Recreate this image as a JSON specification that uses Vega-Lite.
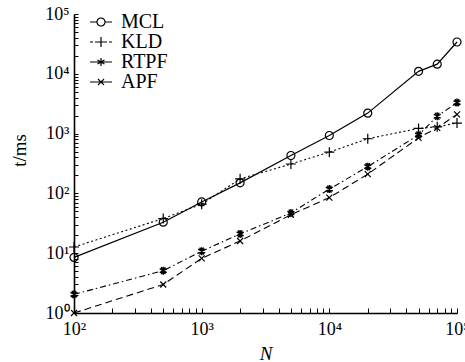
{
  "$schema": "https://vega.github.io/schema/vega-lite/v6.json",
  "width": 383,
  "height": 299,
  "autosize": "none",
  "padding": {"left": 74, "top": 14, "right": 8, "bottom": 49},
  "background": "white",
  "config": {"view": {"stroke": null}, "font": "Liberation Serif"},
  "data": {
    "values": [
      {"N": 100, "t": 8.5, "method": "MCL"},
      {"N": 500, "t": 33, "method": "MCL"},
      {"N": 1000, "t": 72, "method": "MCL"},
      {"N": 2000, "t": 150, "method": "MCL"},
      {"N": 5000, "t": 430, "method": "MCL"},
      {"N": 10000, "t": 930, "method": "MCL"},
      {"N": 20000, "t": 2200, "method": "MCL"},
      {"N": 50000, "t": 11000, "method": "MCL"},
      {"N": 70000, "t": 14500, "method": "MCL"},
      {"N": 100000, "t": 34000, "method": "MCL"},
      {"N": 100, "t": 12.7, "method": "KLD"},
      {"N": 500, "t": 38, "method": "KLD"},
      {"N": 1000, "t": 66, "method": "KLD"},
      {"N": 2000, "t": 175, "method": "KLD"},
      {"N": 5000, "t": 310, "method": "KLD"},
      {"N": 10000, "t": 490, "method": "KLD"},
      {"N": 20000, "t": 820, "method": "KLD"},
      {"N": 50000, "t": 1220, "method": "KLD"},
      {"N": 70000, "t": 1300, "method": "KLD"},
      {"N": 100000, "t": 1500, "method": "KLD"},
      {"N": 100, "t": 2.05, "method": "RTPF"},
      {"N": 500, "t": 5.1, "method": "RTPF"},
      {"N": 1000, "t": 10.8, "method": "RTPF"},
      {"N": 2000, "t": 21, "method": "RTPF"},
      {"N": 5000, "t": 47, "method": "RTPF"},
      {"N": 10000, "t": 118, "method": "RTPF"},
      {"N": 20000, "t": 280, "method": "RTPF"},
      {"N": 50000, "t": 950, "method": "RTPF"},
      {"N": 70000, "t": 1950, "method": "RTPF"},
      {"N": 100000, "t": 3300, "method": "RTPF"},
      {"N": 100, "t": 1.0, "method": "APF"},
      {"N": 500, "t": 3.0, "method": "APF"},
      {"N": 1000, "t": 8.2, "method": "APF"},
      {"N": 2000, "t": 16, "method": "APF"},
      {"N": 5000, "t": 44, "method": "APF"},
      {"N": 10000, "t": 85, "method": "APF"},
      {"N": 20000, "t": 210, "method": "APF"},
      {"N": 50000, "t": 850, "method": "APF"},
      {"N": 70000, "t": 1250, "method": "APF"},
      {"N": 100000, "t": 2100, "method": "APF"}
    ]
  },
  "encoding": {
    "x": {
      "field": "N", "type": "quantitative",
      "scale": {"type": "log", "domain": [100, 100000], "nice": false},
      "axis": {
        "title": "N", "titleFont": "Liberation Serif", "titleFontStyle": "italic", "titleFontWeight": "normal", "titleFontSize": 19, "titleColor": "black", "titlePadding": 6,
        "values": [100,200,300,400,500,600,700,800,900,1000,2000,3000,4000,5000,6000,7000,8000,9000,10000,20000,30000,40000,50000,60000,70000,80000,90000,100000],
        "labelExpr": "datum.value == pow(10, round(log(datum.value)/LN10)) ? '10' + ['⁰','¹','²','³','⁴','⁵'][round(log(datum.value)/LN10)] : ''",
        "labelFont": "Liberation Serif", "labelFontSize": 18, "labelColor": "black", "labelPadding": 12, "labelFlush": false, "labelOverlap": false, "labelBound": false,
        "tickSize": -5, "tickColor": "black", "tickWidth": 1, "domainColor": "black", "domainWidth": 1.6, "grid": false
      }
    },
    "y": {
      "field": "t", "type": "quantitative",
      "scale": {"type": "log", "domain": [1, 100000], "nice": false},
      "axis": {
        "title": "t/ms", "titleFont": "Liberation Serif", "titleFontStyle": "normal", "titleFontWeight": "normal", "titleFontSize": 19, "titleColor": "black", "titleX": -55, "titleY": 136, "titleAlign": "center", "titleBaseline": "middle", "titleAngle": -90,
        "values": [1,2,3,4,5,6,7,8,9,10,20,30,40,50,60,70,80,90,100,200,300,400,500,600,700,800,900,1000,2000,3000,4000,5000,6000,7000,8000,9000,10000,20000,30000,40000,50000,60000,70000,80000,90000,100000],
        "labelExpr": "datum.value == pow(10, round(log(datum.value)/LN10)) ? '10' + ['⁰','¹','²','³','⁴','⁵'][round(log(datum.value)/LN10)] : ''",
        "labelFont": "Liberation Serif", "labelFontSize": 18, "labelColor": "black", "labelPadding": 9, "labelFlush": false, "labelOverlap": false, "labelBound": false,
        "tickSize": -4, "tickColor": "black", "tickWidth": 1, "domainColor": "black", "domainWidth": 1.6, "grid": false
      }
    }
  },
  "layer": [
    {
      "transform": [{"filter": "datum.method === 'MCL'"}],
      "layer": [
        {
          "mark": {"type": "line", "stroke": "black", "strokeWidth": 1.2},
          "encoding": {
            "opacity": {
              "field": "method", "type": "nominal",
              "scale": {"domain": ["MCL", "KLD", "RTPF", "APF"], "range": [1, 1, 1, 1]},
              "legend": {
                "title": null, "orient": "none", "legendX": 17, "legendY": -2, "padding": 0, "rowPadding": 0,
                "labelFont": "Liberation Serif", "labelFontSize": 20, "labelColor": "black", "labelOffset": 10,
                "symbolSize": 100, "symbolStrokeColor": "black", "symbolStrokeWidth": 1.2, "symbolFillColor": "transparent", "symbolDash": [1, 0],
                "encode": {
                  "symbols": {
                    "update": {
                      "shape": {"signal": "datum.value === 'MCL' ? 'M-2.2,0L-0.8,0M0.8,0L2.2,0M0.8,0A0.8,0.8 0 1,1 -0.8,0A0.8,0.8 0 1,1 0.8,0' : datum.value === 'KLD' ? 'M-2.2,0L-1.6,0M-1.2,0L-0.6,0M-0.6,0L0.6,0M0.6,0L1.2,0M1.6,0L2.2,0M0,-1L0,1' : datum.value === 'RTPF' ? 'M-2.2,0L2.2,0M0,-0.8L0,0.8M-0.7,-0.4L0.7,0.4M-0.7,0.4L0.7,-0.4' : 'M-2.2,0L2.2,0M-0.6,-0.6L0.6,0.6M-0.6,0.6L0.6,-0.6'"}
                    }
                  }
                }
              }
            }
          }
        },
        {"mark": {"type": "point", "shape": "M0.8,0A0.8,0.8 0 1,1 -0.8,0A0.8,0.8 0 1,1 0.8,0", "filled": false, "stroke": "black", "size": 100, "strokeWidth": 1.2, "opacity": 1}}
      ]
    },
    {
      "transform": [{"filter": "datum.method === 'KLD'"}],
      "layer": [
        {"mark": {"type": "line", "stroke": "black", "strokeWidth": 1.1, "strokeDash": [2, 2.5]}, "encoding": {}},
        {"mark": {"type": "point", "shape": "M-1,0L1,0M0,-1L0,1", "filled": false, "stroke": "black", "size": 100, "strokeWidth": 1.2, "opacity": 1}}
      ]
    },
    {
      "transform": [{"filter": "datum.method === 'RTPF'"}],
      "layer": [
        {"mark": {"type": "line", "stroke": "black", "strokeWidth": 1.1, "strokeDash": [6, 3, 1.5, 3]}, "encoding": {}},
        {"mark": {"type": "point", "shape": "M0,-0.8L0,0.8M-0.7,-0.4L0.7,0.4M-0.7,0.4L0.7,-0.4M-0.4,-0.7L0.4,0.7M-0.4,0.7L0.4,-0.7", "filled": false, "stroke": "black", "size": 100, "strokeWidth": 1.4, "opacity": 1}}
      ]
    },
    {
      "transform": [{"filter": "datum.method === 'APF'"}],
      "layer": [
        {"mark": {"type": "line", "stroke": "black", "strokeWidth": 1.1, "strokeDash": [7, 4]}, "encoding": {}},
        {"mark": {"type": "point", "shape": "M-0.6,-0.6L0.6,0.6M-0.6,0.6L0.6,-0.6", "filled": false, "stroke": "black", "size": 100, "strokeWidth": 1.2, "opacity": 1}}
      ]
    }
  ]
}
